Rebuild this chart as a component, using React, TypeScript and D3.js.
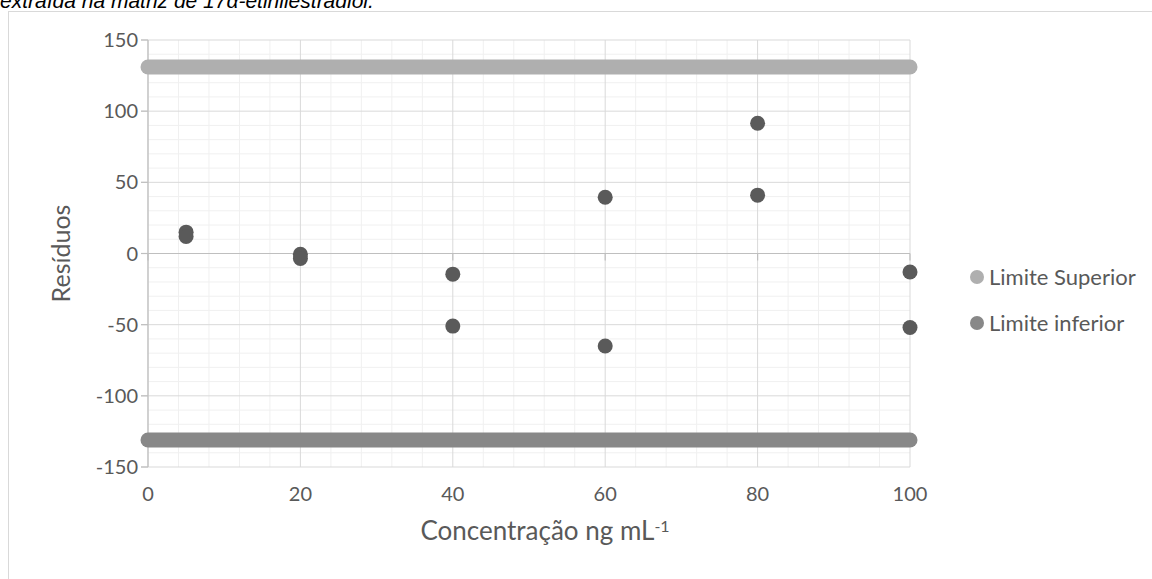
import React from "react";
import * as d3 from "d3";

// Residuals of the calibration curve with the upper/lower acceptance limits
const concentrations = [5, 5, 20, 20, 40, 40, 60, 60, 80, 80, 100, 100];
const residuals = [15, 12, -0.5, -3.5, -14.5, -51, 39.5, -65, 91.5, 41, -13, -52];
const limitRange = [0, 100];
const upperLimit = 131;
const lowerLimit = -131;
const xTicks = [0, 20, 40, 60, 80, 100];
const yTicks = [-150, -100, -50, 0, 50, 100, 150];
const legendLabels = ["Limite Superior", "Limite inferior"];

const W = 1152;
const H = 579;
const FONT = "Lato, 'Open Sans', sans-serif";
const C_TEXT = "#595959";
const C_UPPER = "#afafaf";
const C_LOWER = "#888888";
const C_POINT = "#5a5a5a";

export default function App() {
  const x = d3.scaleLinear().domain([0, 100]).range([148, 910]);
  const y = d3.scaleLinear().domain([-150, 150]).range([467, 40]);

  const minorX = d3.range(0, 100.01, 4).filter((v) => v % 20 !== 0);
  const minorY = d3.range(-150, 150.01, 10).filter((v) => v % 50 !== 0);

  const limitPath = (level: number) =>
    d3
      .line<number>()
      .x((d) => x(d))
      .y(() => y(level))(limitRange) || "";

  return (
    <svg
      width={W}
      height={H}
      style={{ position: "absolute", left: 0, top: 0, background: "#fff" }}
    >
      <text
        x={0}
        y={8}
        fontFamily="'Liberation Sans', Arial, sans-serif"
        fontStyle="italic"
        fontSize={21}
        fill="#000"
      >
        extraída na matriz de 17α-etinilestradiol.
      </text>
      {/* chart frame */}
      <rect x={8.5} y={11.5} width={W} height={H} fill="none" stroke="#d9d9d9" strokeWidth={1} />

      {/* minor grid */}
      {minorX.map((v) => (
        <line key={"mx" + v} x1={x(v)} x2={x(v)} y1={y(150)} y2={y(-150)} stroke="#f0f0f0" strokeWidth={1} />
      ))}
      {minorY.map((v) => (
        <line key={"my" + v} x1={x(0)} x2={x(100)} y1={y(v)} y2={y(v)} stroke="#f0f0f0" strokeWidth={1} />
      ))}
      {/* major grid */}
      {xTicks.map((v) => (
        <line key={"gx" + v} x1={x(v)} x2={x(v)} y1={y(150)} y2={y(-150)} stroke="#d9d9d9" strokeWidth={1} />
      ))}
      {yTicks.map((v) => (
        <line key={"gy" + v} x1={x(0) - 7} x2={x(100)} y1={y(v)} y2={y(v)} stroke="#d9d9d9" strokeWidth={1} />
      ))}
      {/* axes */}
      <line x1={x(0)} x2={x(0)} y1={y(150)} y2={y(-150)} stroke="#bfbfbf" strokeWidth={1.2} />
      <line x1={x(0)} x2={x(100)} y1={y(0)} y2={y(0)} stroke="#bfbfbf" strokeWidth={1.2} />
      {yTicks.map((v) => (
        <line key={"ty" + v} x1={x(0) - 7} x2={x(0)} y1={y(v)} y2={y(v)} stroke="#bfbfbf" strokeWidth={1.2} />
      ))}
      {xTicks.map((v) => (
        <line key={"tx" + v} x1={x(v)} x2={x(v)} y1={y(0)} y2={y(0) + 7} stroke="#bfbfbf" strokeWidth={1.2} />
      ))}

      {/* tick labels */}
      {yTicks.map((v) => (
        <text key={"ly" + v} x={138} y={y(v)} dy="0.35em" textAnchor="end" fontFamily={FONT} fontSize={20} fill={C_TEXT}>
          {v}
        </text>
      ))}
      {xTicks.map((v) => (
        <text key={"lx" + v} x={x(v)} y={494} dy="0.35em" textAnchor="middle" fontFamily={FONT} fontSize={20} fill={C_TEXT}>
          {v}
        </text>
      ))}

      {/* axis titles */}
      <text
        transform={`translate(61, ${y(0)}) rotate(-90)`}
        dy="0.35em"
        textAnchor="middle"
        fontFamily={FONT}
        fontSize={25}
        fill={C_TEXT}
      >
        Resíduos
      </text>
      <text x={545} y={531} dy="0.35em" textAnchor="middle" fontFamily={FONT} fontSize={26} fill={C_TEXT}>
        Concentração ng mL
        <tspan dy="-0.5em" fontSize={16}>-1</tspan>
      </text>

      {/* limit series */}
      <path d={limitPath(upperLimit)} stroke={C_UPPER} strokeWidth={15} strokeLinecap="round" fill="none" />
      <path d={limitPath(lowerLimit)} stroke={C_LOWER} strokeWidth={15} strokeLinecap="round" fill="none" />

      {/* residual points */}
      {residuals.map((r, i) => (
        <circle key={"p" + i} cx={x(concentrations[i])} cy={y(r)} r={7.5} fill={C_POINT} />
      ))}

      {/* legend */}
      {legendLabels.map((label, i) => (
        <g key={label} transform={`translate(977, ${277 + i * 46})`}>
          <circle cx={0} cy={0} r={7} fill={i === 0 ? C_UPPER : C_LOWER} />
          <text x={12} y={0} dy="0.35em" fontFamily={FONT} fontSize={22} fill={C_TEXT}>
            {label}
          </text>
        </g>
      ))}
    </svg>
  );
}
